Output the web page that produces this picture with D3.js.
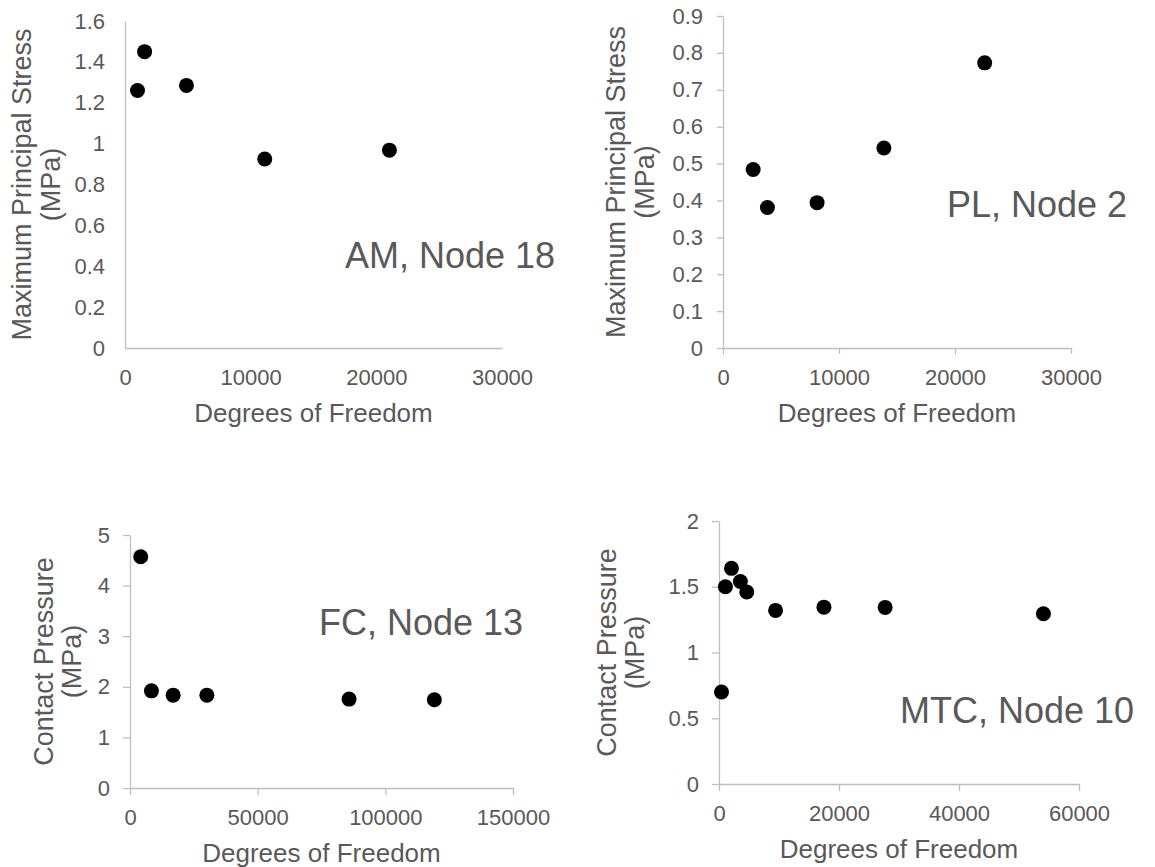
<html>
<head>
    <title>Mesh convergence</title>

    <style type="text/css">
        body{
            margin: 0;
            background-color: #fff;
        }
        svg{
            background-color: #fff;
            font-family: "Liberation Sans", Arial, sans-serif;
        }
        .axis path, .axis line{
            stroke: #bfbfbf;
            stroke-width: 1.3px;
        }
        .axis text{
            fill: #595959;
            font-size: 22px;
        }
        .title{
            fill: #595959;
            font-size: 26px;
        }
        .ytitle{
            fill: #595959;
            font-size: 27px;
        }
        .note{
            fill: #595959;
            font-size: 36px;
        }
        .dot{
            fill: #000;
        }
    </style>

    <script type="text/javascript" src="https://cdnjs.cloudflare.com/ajax/libs/d3/7.8.5/d3.min.js"></script>
</head>
<body>

    <div id="chart"></div>

    <script type="text/javascript">
        // values
        var amDof = [995, 1560, 4890, 11120, 21040];
        var amStress = [1.26, 1.45, 1.285, 0.925, 0.968];

        var plDof = [2600, 3830, 8110, 13870, 22560];
        var plStress = [0.484, 0.381, 0.394, 0.542, 0.773];

        var fcDof = [4200, 8400, 16900, 30100, 85800, 119200];
        var fcPressure = [4.57, 1.92, 1.835, 1.835, 1.757, 1.743];

        var mtcDof = [420, 1070, 2080, 3560, 4630, 9430, 17490, 27690, 54070];
        var mtcPressure = [0.70, 1.50, 1.64, 1.54, 1.46, 1.32, 1.345, 1.343, 1.295];

        // tick labels
        var amXTicks = [0, 10000, 20000, 30000];
        var amYTicks = [0, 0.2, 0.4, 0.6, 0.8, 1, 1.2, 1.4, 1.6];
        var plXTicks = [0, 10000, 20000, 30000];
        var plYTicks = [0, 0.1, 0.2, 0.3, 0.4, 0.5, 0.6, 0.7, 0.8, 0.9];
        var fcXTicks = [0, 50000, 100000, 150000];
        var fcYTicks = [0, 1, 2, 3, 4, 5];
        var mtcXTicks = [0, 20000, 40000, 60000];
        var mtcYTicks = [0, 0.5, 1, 1.5, 2];

        var xTitle = 'Degrees of Freedom';
        var stressTitle = ['Maximum Principal Stress', '(MPa)'];
        var pressureTitle = ['Contact Pressure', '(MPa)'];

        var width = 1155, height = 867, r = 7.5;

        var panels = [
            {x: amDof, y: amStress, xTicks: amXTicks, yTicks: amYTicks, yTitle: stressTitle,
             note: 'AM, Node 18', left: 125, right: 502, top: 21, bottom: 348, tick: 0,
             t1: 103, t2: 74, noteX: 345, noteY: 268},
            {x: plDof, y: plStress, xTicks: plXTicks, yTicks: plYTicks, yTitle: stressTitle,
             note: 'PL, Node 2', left: 723, right: 1071, top: 16, bottom: 348, tick: 6,
             t1: 107, t2: 78, noteX: 947, noteY: 217},
            {x: fcDof, y: fcPressure, xTicks: fcXTicks, yTicks: fcYTicks, yTitle: pressureTitle,
             note: 'FC, Node 13', left: 130, right: 513, top: 535, bottom: 788, tick: 7,
             t1: 86, t2: 58, noteX: 319, noteY: 635},
            {x: mtcDof, y: mtcPressure, xTicks: mtcXTicks, yTicks: mtcYTicks, yTitle: pressureTitle,
             note: 'MTC, Node 10', left: 719, right: 1079, top: 521, bottom: 784, tick: 7,
             t1: 112, t2: 84, noteX: 900, noteY: 723}
        ];

        var svg = d3.select('#chart')
            .append('svg')
            .attr('width', width + 'px')
            .attr('height', height + 'px');

        function label(v){
            return String(+v.toFixed(1));
        }

        panels.forEach(function(p){
            var xScale = d3.scaleLinear()
                .domain([p.xTicks[0], p.xTicks[p.xTicks.length - 1]])
                .range([p.left, p.right]);

            var yScale = d3.scaleLinear()
                .domain([p.yTicks[0], p.yTicks[p.yTicks.length - 1]])
                .range([p.bottom, p.top]);

            var xAxis = d3.axisBottom(xScale)
                .tickValues(p.xTicks)
                .tickFormat(label)
                .tickSizeInner(p.tick)
                .tickSizeOuter(0)
                .tickPadding(21 - p.tick);

            var yAxis = d3.axisLeft(yScale)
                .tickValues(p.yTicks)
                .tickFormat(label)
                .tickSizeInner(p.tick)
                .tickSizeOuter(0)
                .tickPadding(20 - p.tick);

            svg.append('g')
                .attr('class', 'axis')
                .attr('transform', 'translate(0,' + p.bottom + ')')
                .call(xAxis);

            svg.append('g')
                .attr('class', 'axis')
                .attr('transform', 'translate(' + p.left + ',0)')
                .call(yAxis);

            svg.selectAll('.axis').attr('font-family', null).attr('font-size', null);

            // x title
            svg.append('text')
                .attr('class', 'title')
                .attr('x', (p.left + p.right) / 2)
                .attr('y', p.bottom + 65)
                .attr('dy', '0.35em')
                .attr('text-anchor', 'middle')
                .text(xTitle);

            // y title, two lines
            var midY = (p.top + p.bottom) / 2;
            [p.t1, p.t2].forEach(function(off, i){
                svg.append('text')
                    .attr('class', 'ytitle')
                    .attr('transform', 'translate(' + (p.left - off) + ',' + midY + ') rotate(-90)')
                    .attr('dy', '0.35em')
                    .attr('text-anchor', 'middle')
                    .text(p.yTitle[i]);
            });

            svg.append('text')
                .attr('class', 'note')
                .attr('x', p.noteX)
                .attr('y', p.noteY)
                .text(p.note);

            svg.append('g')
                .selectAll('.dot')
                .data(d3.zip(p.x, p.y))
                .enter()
                .append('circle')
                .attr('class', 'dot')
                .attr('cx', function(d){ return xScale(d[0]); })
                .attr('cy', function(d){ return yScale(d[1]); })
                .attr('r', r);
        });
    </script>

</body>
</html>
